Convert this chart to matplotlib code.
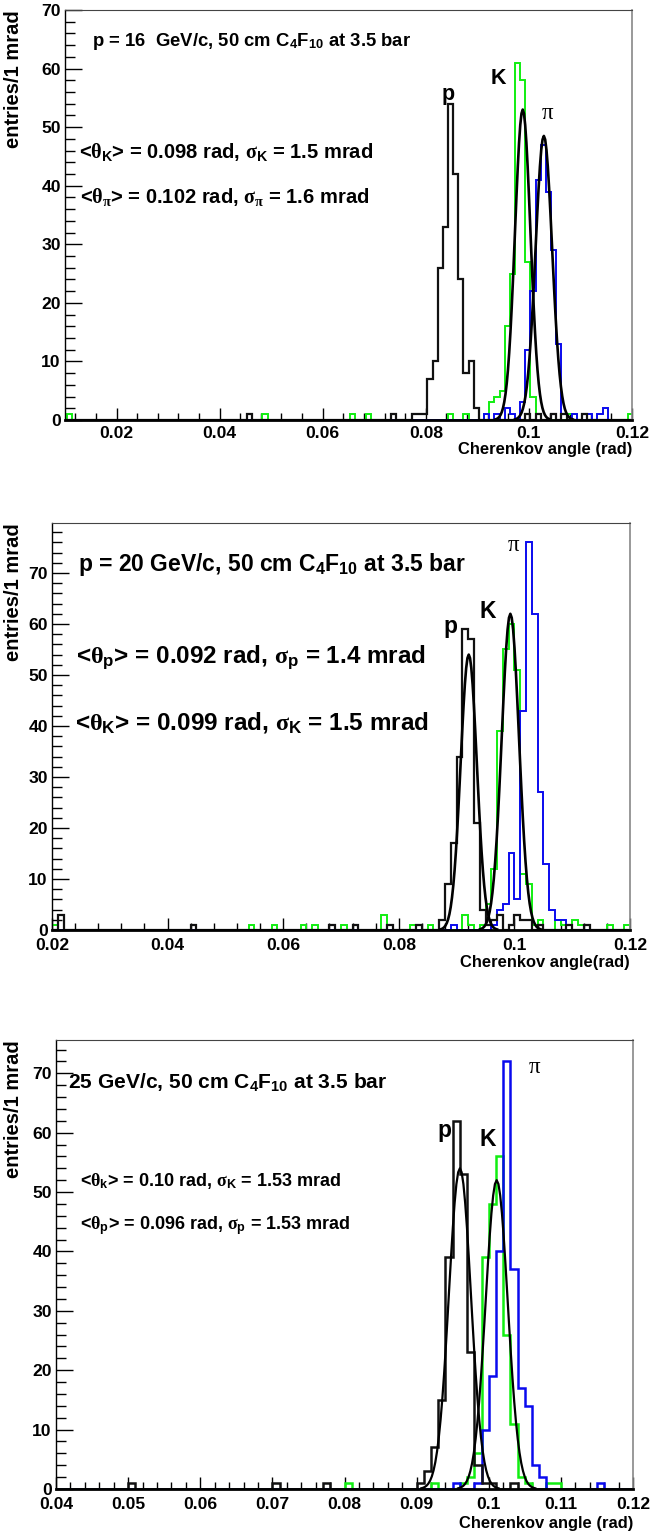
import numpy as np
import matplotlib
matplotlib.use('Agg')
import matplotlib.pyplot as plt
from matplotlib import font_manager
from matplotlib.ticker import MultipleLocator, FuncFormatter

# ---------------- data (bin start in mrad, entries per 1 mrad bin) ----------------
# Panel 1: p = 16 GeV/c
p16_proton_bins = [45, 73, 77, 78, 79, 80, 81, 82, 83, 84, 85, 86, 87, 88, 89, 99, 101, 104, 106, 110]
p16_proton_cnts = [1, 1, 1, 1, 1, 7, 10, 26, 33, 54, 42, 24, 8, 10, 2, 1, 1, 1, 1, 1]
p16_kaon_bins = [10, 48, 65, 68, 84, 87, 91, 92, 93, 94, 95, 96, 97, 98, 99, 100, 101, 107, 108, 119]
p16_kaon_cnts = [1, 1, 1, 1, 1, 1, 1, 3, 4, 5, 16, 25, 61, 58, 27, 4, 1, 1, 1, 1]
p16_pion_bins = [91, 93, 95, 96, 98, 99, 100, 101, 102, 103, 104, 105, 106, 108, 111, 113, 114]
p16_pion_cnts = [1, 1, 2, 1, 3, 12, 22, 41, 47, 39, 29, 13, 1, 1, 1, 1, 2]
p16_fit_mean = [0.0988, 0.1029]      # K, pi
p16_fit_sigma = [0.0015, 0.0016]
p16_fit_amp = [53, 48.5]

# Panel 2: p = 20 GeV/c
p20_proton_bins = [21, 44, 68, 72, 78, 83, 87, 88, 89, 90, 91, 92, 93, 94, 95, 96, 97, 99, 100, 101, 102, 104, 109, 112]
p20_proton_cnts = [3, 1, 1, 1, 1, 1, 2, 9, 17, 34, 59, 57, 21, 4, 1, 2, 3, 1, 3, 2, 2, 1, 1, 1]
p20_kaon_bins = [20, 54, 58, 63, 65, 70, 77, 78, 82, 85, 91, 92, 94, 95, 96, 97, 98, 99, 100, 101, 102, 103, 104,
                 107, 108, 110, 111, 116, 119]
p20_kaon_cnts = [1, 1, 1, 1, 1, 1, 3, 1, 1, 1, 3, 1, 1, 5, 12, 39, 55, 60, 51, 11, 9, 1, 2, 2, 1, 2, 1, 1, 1]
p20_pion_bins = [89, 96, 97, 98, 99, 100, 101, 102, 103, 104, 105, 106, 107, 108, 109]
p20_pion_cnts = [1, 1, 4, 5, 15, 6, 43, 76, 62, 27, 13, 4, 2, 2, 1]
p20_fit_mean = [0.0921, 0.0993]      # p, K
p20_fit_sigma = [0.0014, 0.0015]
p20_fit_amp = [54, 62]

# Panel 3: p = 25 GeV/c
p25_proton_bins = [50, 70, 77, 90, 91, 92, 93, 94, 95, 96, 97, 98, 99, 100, 103]
p25_proton_cnts = [1, 1, 1, 1, 3, 7, 15, 39, 62, 53, 23, 4, 1, 1, 1]
p25_kaon_bins = [80, 92, 96, 97, 98, 99, 100, 101, 102, 103, 104, 105, 108, 109]
p25_kaon_cnts = [1, 1, 1, 2, 6, 39, 48, 56, 26, 11, 2, 1, 1, 1]
p25_pion_bins = [95, 98, 99, 100, 101, 102, 103, 104, 105, 106, 107, 115]
p25_pion_cnts = [1, 1, 10, 19, 40, 72, 37, 17, 14, 4, 2, 1]
p25_fit_mean = [0.0960, 0.1011]      # p, K
p25_fit_sigma = [0.00153, 0.00153]
p25_fit_amp = [54, 52]

x_ticks_fmt = lambda v, pos: f'{round(v, 4):g}'

# ---------------- fonts ----------------
names = {f.name for f in font_manager.fontManager.ttflist}
NARROW = 'Liberation Sans Narrow' in names
SANS = 'Liberation Sans Narrow' if NARROW else 'Liberation Sans'
plt.rcParams['font.family'] = [SANS, 'DejaVu Sans']
plt.rcParams['font.weight'] = 'bold'
plt.rcParams['mathtext.fontset'] = 'custom'
plt.rcParams['mathtext.rm'] = f'{SANS}:bold'
plt.rcParams['mathtext.bf'] = f'{SANS}:bold'
plt.rcParams['mathtext.it'] = 'Liberation Serif'
plt.rcParams['mathtext.sf'] = f'{SANS}:bold'

sc = 1.18 if NARROW else 1.0
FS_TICK = 12.6 * sc
FS_AX = 11.9 * sc
FS_LAB = 15.5 * sc

GREEN = '#11ee11'
BLUE = '#0a0aee'
BLACK = '#111111'

W, H = 653, 1537
fig = plt.figure(figsize=(W / 100, H / 100), dpi=100)


def add_axes(l, r, t, b):
    return fig.add_axes([l / W, 1 - b / H, (r - l) / W, (b - t) / H])


def full_hist(lo, hi, offset, bins, cnts):
    edges = (np.arange(lo, hi + 1) + offset) * 1e-3
    vals = np.zeros(len(edges) - 1)
    for b, c in zip(bins, cnts):
        vals[b - lo] = c
    return vals, edges


def draw_hist(ax, lo, hi, offset, bins, cnts, color, lw=1.4):
    vals, edges = full_hist(lo, hi, offset, bins, cnts)
    ax.stairs(vals, edges, baseline=0, fill=False, color=color, lw=lw, zorder=2)


def draw_fit(ax, m, s, a, lw=1.9):
    x = np.linspace(m - 3.5 * s, m + 3.5 * s, 45)
    ax.plot(x, a * np.exp(-0.5 * ((x - m) / s) ** 2), color='black', lw=lw, zorder=4)


def style(ax, xlo, xhi, xmaj, xmin, ymax, ylabel_x, xlabel, xlabel_y, xpad=4):
    ax.set_xlim(xlo, xhi)
    ax.set_ylim(0, ymax)
    ax.xaxis.set_major_locator(MultipleLocator(xmaj))
    ax.xaxis.set_minor_locator(MultipleLocator(xmin))
    ax.yaxis.set_major_locator(MultipleLocator(10))
    ax.yaxis.set_minor_locator(MultipleLocator(2))
    ax.xaxis.set_major_formatter(FuncFormatter(x_ticks_fmt))
    ax.tick_params(axis='x', which='major', direction='in', length=9, width=1, labelsize=FS_TICK, pad=xpad)
    ax.tick_params(axis='x', which='minor', direction='in', length=5, width=1)
    ax.tick_params(axis='y', which='major', direction='in', length=12, width=1, labelsize=FS_TICK, pad=3)
    ax.tick_params(axis='y', which='minor', direction='in', length=7, width=1)
    for lab in ax.get_xticklabels() + ax.get_yticklabels():
        lab.set_fontweight('bold')
    ax.spines['left'].set_color('black')
    ax.spines['left'].set_linewidth(1)
    ax.spines['bottom'].set_color('black')
    ax.spines['bottom'].set_linewidth(2)
    ax.spines['top'].set_color('#444444')
    ax.spines['top'].set_linewidth(0.8)
    ax.spines['right'].set_color('#888888')
    ax.spines['right'].set_linewidth(1.2)
    ax.text(ylabel_x, 1.0, 'entries/1 mrad', transform=ax.transAxes, rotation=90,
            ha='center', va='top', fontsize=14.5, fontweight='bold', family=['Liberation Sans', 'DejaVu Sans'])
    ax.text(1.0, xlabel_y, xlabel, transform=ax.transAxes, ha='right', va='top',
            fontsize=FS_AX, fontweight='bold')


# ---------------- panel 1 ----------------
ax1 = add_axes(65, 632, 10, 420)
draw_hist(ax1, 9, 120, 0.3, p16_kaon_bins, p16_kaon_cnts, GREEN)
draw_hist(ax1, 9, 120, 0.3, p16_pion_bins, p16_pion_cnts, BLUE)
draw_hist(ax1, 9, 120, 0.3, p16_proton_bins, p16_proton_cnts, BLACK, lw=1.6)
for m, s, a in zip(p16_fit_mean, p16_fit_sigma, p16_fit_amp):
    draw_fit(ax1, m, s, a)
style(ax1, 0.01, 0.12, 0.02, 0.004, 70, -0.09, 'Cherenkov angle (rad)', -0.054)
ax1.text(0.048, 0.922, r'p = 16  GeV/c, 50 cm C$_\mathrm{4}$F$_\mathrm{10}$ at 3.5 bar', transform=ax1.transAxes,
         ha='left', va='center', fontsize=13.3 * sc)
ax1.text(0.024, 0.654, r'<$\theta_\mathrm{K}$> = 0.098 rad, $\sigma_\mathrm{K}$ = 1.5 mrad', transform=ax1.transAxes,
         ha='left', va='center', fontsize=14.5 * sc)
ax1.text(0.027, 0.544, r'<$\theta_\pi$> = 0.102 rad, $\sigma_\pi$ = 1.6 mrad', transform=ax1.transAxes,
         ha='left', va='center', fontsize=14.5 * sc)
ax1.text(0.0843, 55.6, 'p', ha='center', va='center', fontsize=FS_LAB)
ax1.text(0.0940, 58.3, 'K', ha='center', va='center', fontsize=FS_LAB)
ax1.text(0.1037, 52.3, 'π', ha='center', va='center', fontsize=FS_LAB + 1, family='Liberation Serif',
         fontweight='normal')

# ---------------- panel 2 ----------------
ax2 = add_axes(52, 630, 523, 930)
draw_hist(ax2, 19, 120, 0.0, p20_kaon_bins, p20_kaon_cnts, GREEN)
draw_hist(ax2, 19, 120, 0.0, p20_pion_bins, p20_pion_cnts, BLUE)
draw_hist(ax2, 19, 120, 0.0, p20_proton_bins, p20_proton_cnts, BLACK, lw=1.6)
for m, s, a in zip(p20_fit_mean, p20_fit_sigma, p20_fit_amp):
    draw_fit(ax2, m, s, a)
style(ax2, 0.02, 0.12, 0.02, 0.004, 79.8, -0.066, 'Cherenkov angle(rad)', -0.062, xpad=6)
ax2.text(0.045, 0.897, r'p = 20 GeV/c, 50 cm C$_\mathrm{4}$F$_\mathrm{10}$ at 3.5 bar', transform=ax2.transAxes,
         ha='left', va='center', fontsize=16.5 * sc)
ax2.text(0.041, 0.671, r'<$\theta_\mathrm{p}$> = 0.092 rad, $\sigma_\mathrm{p}$ = 1.4 mrad', transform=ax2.transAxes,
         ha='left', va='center', fontsize=17.5 * sc)
ax2.text(0.040, 0.511, r'<$\theta_\mathrm{K}$> = 0.099 rad, $\sigma_\mathrm{K}$ = 1.5 mrad', transform=ax2.transAxes,
         ha='left', va='center', fontsize=17.5 * sc)
ax2.text(0.0890, 59.5, 'p', ha='center', va='center', fontsize=FS_LAB + 1)
ax2.text(0.0954, 62.5, 'K', ha='center', va='center', fontsize=FS_LAB + 1)
ax2.text(0.0999, 75.4, 'π', ha='center', va='center', fontsize=FS_LAB + 1, family='Liberation Serif',
         fontweight='normal')

# ---------------- panel 3 ----------------
ax3 = add_axes(56, 633, 1040, 1489)
draw_hist(ax3, 39, 120, 0.0, p25_kaon_bins, p25_kaon_cnts, GREEN, lw=1.8)
draw_hist(ax3, 39, 120, 0.0, p25_pion_bins, p25_pion_cnts, BLUE, lw=1.8)
draw_hist(ax3, 39, 120, 0.0, p25_proton_bins, p25_proton_cnts, BLACK, lw=1.8)
for m, s, a in zip(p25_fit_mean, p25_fit_sigma, p25_fit_amp):
    draw_fit(ax3, m, s, a, lw=1.6)
style(ax3, 0.04, 0.12, 0.01, 0.002, 75.6, -0.073, 'Cherenkov angle (rad)', -0.06, xpad=6)
ax3.text(0.021, 0.906, r'25 GeV/c, 50 cm C$_\mathrm{4}$F$_\mathrm{10}$ at 3.5 bar', transform=ax3.transAxes,
         ha='left', va='center', fontsize=15.1 * sc)
ax3.text(0.042, 0.686, r'<$\theta_\mathrm{k}$> = 0.10 rad, $\sigma_\mathrm{K}$ = 1.53 mrad', transform=ax3.transAxes,
         ha='left', va='center', fontsize=13.0 * sc)
ax3.text(0.042, 0.586, r'<$\theta_\mathrm{p}$> = 0.096 rad, $\sigma_\mathrm{p}$ = 1.53 mrad', transform=ax3.transAxes,
         ha='left', va='center', fontsize=13.0 * sc)
ax3.text(0.0938, 60.4, 'p', ha='center', va='center', fontsize=FS_LAB + 1)
ax3.text(0.0998, 58.8, 'K', ha='center', va='center', fontsize=FS_LAB + 1)
ax3.text(0.1064, 70.9, 'π', ha='center', va='center', fontsize=FS_LAB + 1, family='Liberation Serif',
         fontweight='normal')

fig.savefig('out.png', dpi=100)
